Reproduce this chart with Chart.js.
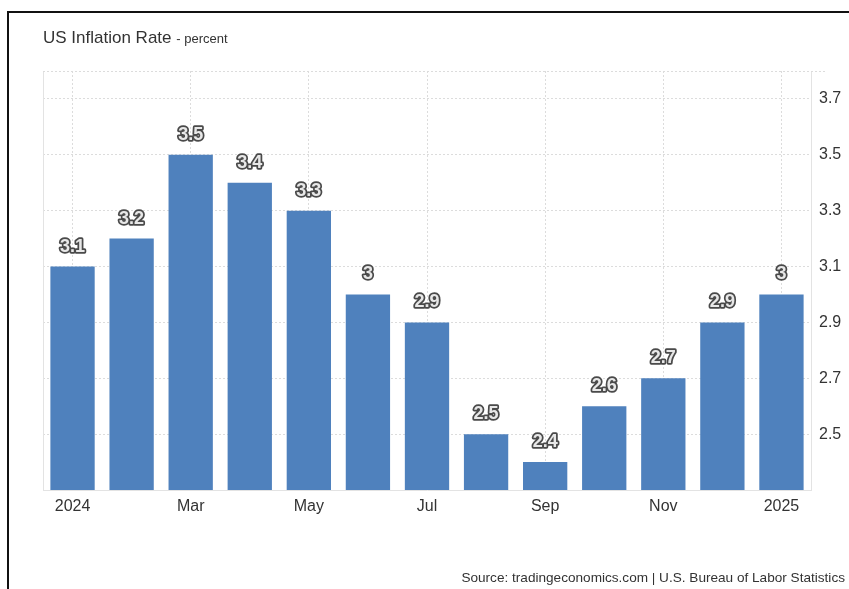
<!DOCTYPE html>
<html>
<head>
<meta charset="utf-8">
<script src="https://cdn.jsdelivr.net/npm/chart.js@4/dist/chart.umd.min.js"></script>
<style>
  html, body { margin: 0; padding: 0; background: #fff; }
  body { width: 849px; height: 589px; position: relative; overflow: hidden; font-family: "Liberation Sans", Arial, sans-serif; }
  #frame { position: absolute; left: 7px; top: 11px; width: 900px; height: 700px; border-left: 2px solid #111; border-top: 2px solid #111; }
  #title { position: absolute; left: 43px; top: 28px; font-size: 17px; color: #333; white-space: nowrap; }
  #title span { font-size: 13px; }
  #source { position: absolute; right: 4px; top: 570px; font-size: 13.6px; color: #333; white-space: nowrap; }
  #wrap { position: absolute; left: 0; top: 0; width: 849px; height: 589px; }
</style>
</head>
<body>
<div id="frame"></div>
<div id="wrap"><canvas id="c" width="849" height="589"></canvas></div>
<div id="title">US Inflation Rate <span>- percent</span></div>
<div id="source">Source: tradingeconomics.com | U.S. Bureau of Labor Statistics</div>
<script>
const categories = ["2024", "Feb", "Mar", "Apr", "May", "Jun", "Jul", "Aug", "Sep", "Oct", "Nov", "Dec", "2025"];
const inflation = [3.1, 3.2, 3.5, 3.4, 3.3, 3.0, 2.9, 2.5, 2.4, 2.6, 2.7, 2.9, 3.0];
const yTicks = [2.5, 2.7, 2.9, 3.1, 3.3, 3.5, 3.7];
const yMin = 2.3, yMax = 3.8;

const labelPlugin = {
  id: 'valueLabels',
  afterDatasetsDraw(chart) {
    const ctx = chart.ctx;
    const meta = chart.getDatasetMeta(0);
    ctx.save();
    ctx.font = 'bold 18px "Liberation Sans", Arial, sans-serif';
    ctx.textAlign = 'center';
    ctx.textBaseline = 'middle';
    ctx.lineJoin = 'round';
    meta.data.forEach((bar, i) => {
      const txt = String(inflation[i]);
      const x = bar.x, y = bar.y - 20;
      ctx.lineWidth = 3.5;
      ctx.strokeStyle = '#4a4a4a';
      ctx.strokeText(txt, x, y);
      ctx.fillStyle = '#e8e8e8';
      ctx.fillText(txt, x, y);
    });
    ctx.restore();
  }
};

const bordersPlugin = {
  id: 'borders',
  beforeDatasetsDraw(chart) {
    const ctx = chart.ctx, a = chart.chartArea;
    ctx.save();
    ctx.strokeStyle = '#e3e3e3';
    ctx.lineWidth = 1;
    ctx.beginPath();
    ctx.moveTo(a.left + 0.5, a.top);
    ctx.lineTo(a.left + 0.5, a.bottom);
    ctx.stroke();
    ctx.setLineDash([2, 2]);
    ctx.strokeStyle = '#dcdcdc';
    ctx.beginPath();
    ctx.moveTo(a.left, a.top + 0.5);
    ctx.lineTo(a.right + 14, a.top + 0.5);
    ctx.stroke();
    ctx.restore();
  }
};

new Chart(document.getElementById('c'), {
  type: 'bar',
  data: {
    labels: categories,
    datasets: [{
      data: inflation,
      backgroundColor: '#4f81bd',
      borderWidth: 0,
      barPercentage: 1.0,
      categoryPercentage: 0.75
    }]
  },
  options: {
    responsive: false,
    animation: false,
    devicePixelRatio: 1,
    layout: { padding: { left: 43, top: 71, right: 0, bottom: 0 } },
    plugins: { legend: { display: false }, tooltip: { enabled: false }, title: { display: false } },
    scales: {
      x: {
        offset: true,
        grid: { offset: false, color: '#dcdcdc', drawTicks: false },
        border: { display: true, color: '#e3e3e3', dash: [2, 2] },
        ticks: {
          autoSkip: false, maxRotation: 0, padding: 7,
          color: '#333',
          font: { size: 16, family: '"Liberation Sans", Arial, sans-serif' },
          callback: function (v, i) { return i % 2 === 0 ? categories[i] : null; }
        },
        afterFit(scale) { scale.height = 99; }
      },
      y: {
        position: 'right',
        min: yMin, max: yMax,
        grid: { color: '#dcdcdc', drawTicks: false },
        border: { display: true, color: '#e3e3e3', dash: [2, 2] },
        afterBuildTicks(scale) { scale.ticks = yTicks.map(v => ({ value: v })); },
        ticks: {
          padding: 8,
          color: '#333',
          font: { size: 16, family: '"Liberation Sans", Arial, sans-serif' },
          callback: function (v) { return v.toFixed(1); }
        },
        afterFit(scale) { scale.width = 38; }
      }
    }
  },
  plugins: [bordersPlugin, labelPlugin]
});
</script>
</body>
</html>
